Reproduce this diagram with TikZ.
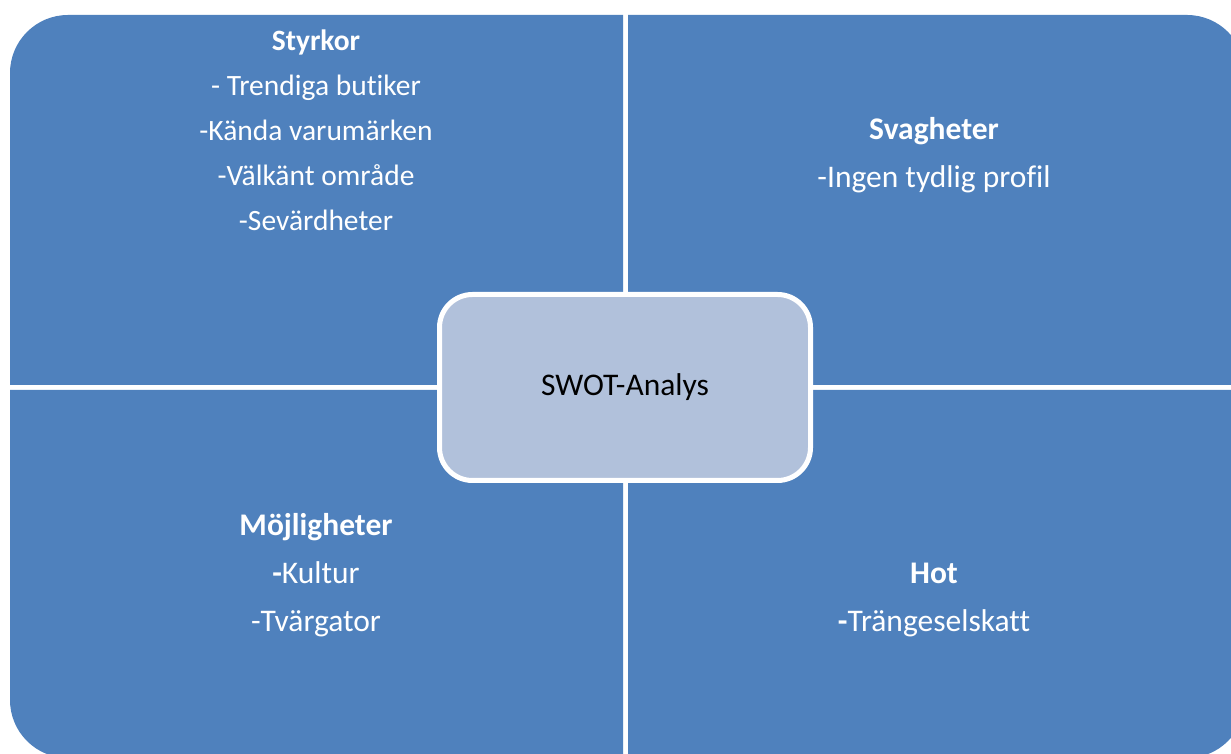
\documentclass[tikz,border=0pt]{standalone}
\usepackage{fontspec}
\setmainfont{Carlito}[Ligatures=NoCommon]
\usepackage{tikz}

\definecolor{quadblue}{HTML}{4F81BD}
\definecolor{centerblue}{HTML}{B1C1DB}

\tikzset{
    quad/.style={fill=quadblue},
    quadtext/.style={text=white, align=center, inner sep=0pt,
        font=\fontsize{31.5}{48}\selectfont},
    center/.style={draw=white, line width=5pt, fill=centerblue,
        rounded corners=33pt, minimum width=371pt, minimum height=186pt,
        font=\fontsize{31.5}{38}\selectfont}
}

\begin{document}
\begin{tikzpicture}[x=1pt,y=1pt]
            \useasboundingbox (0,0) rectangle (1231,754);
            \fill[white] (0,0) rectangle (1231,754);
            \clip (0,0) rectangle (1231,754);
            % quadrants, one rounded outer corner each
            \fill[quad] (623,369) -- (10,369) -- (10,681)
                arc[start angle=180, end angle=90, radius=58pt] -- (623,739) -- cycle;
            \fill[quad] (628,369) -- (628,739) -- (1187,739)
                arc[start angle=90, end angle=0, radius=58pt] -- (1245,369) -- cycle;
            \fill[quad] (623,364) -- (10,364) -- (10,54)
                arc[start angle=180, end angle=270, radius=58pt] -- (623,-4) -- cycle;
            \fill[quad] (628,364) -- (1245,364) -- (1245,54)
                arc[start angle=0, end angle=-90, radius=58pt] -- (628,-4) -- cycle;
            % texts
            \node[quadtext, font=\fontsize{29.5}{45}\selectfont](S) at (316,624)
                {\textbf{Styrkor}\\- Trendiga butiker\\-Kända varumärken\\-Välkänt område\\-Sevärdheter};
            \node[quadtext](W) at (934,599) {\textbf{Svagheter}\\-Ingen tydlig profil};
            \node[quadtext](O) at (316,178.5) {\textbf{Möjligheter}\\\textbf{-}Kultur\\-Tvärgator};
            \node[quadtext](T) at (934,154.5) {\textbf{Hot}\\\textbf{-}Trängeselskatt};
            \node[center](SWOT) at (625,366.5) {SWOT-Analys};
        \end{tikzpicture}
\end{document}
